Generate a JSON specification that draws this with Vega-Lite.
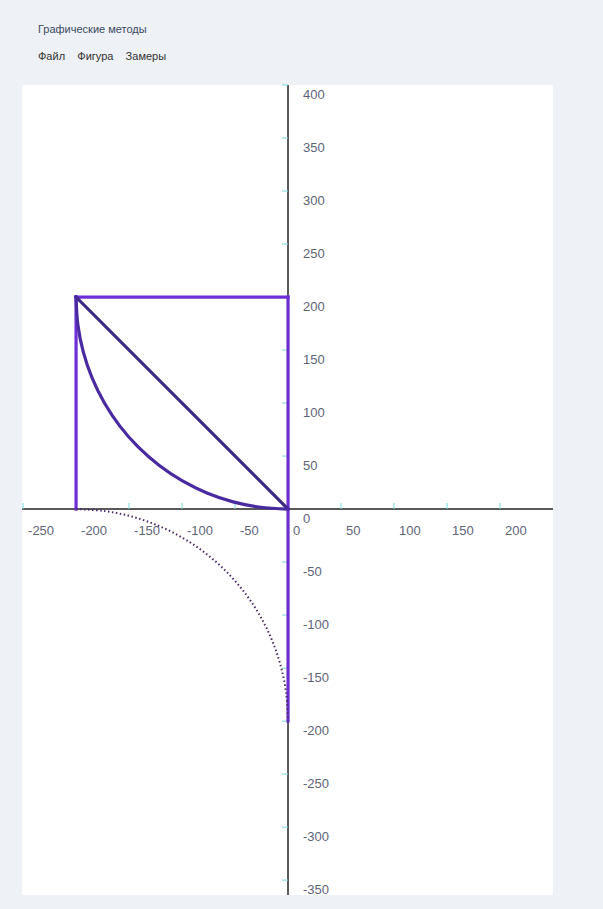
{
  "$schema": "https://vega.github.io/schema/vega-lite/v6.json",
  "width": 531,
  "height": 810,
  "autosize": {"type": "none"},
  "padding": {"left": 22, "top": 85, "right": 50, "bottom": 14},
  "background": "#eef1f5",
  "view": {"fill": "#ffffff", "stroke": null},
  "title": {
    "text": "Графические методы",
    "subtitle": "Файл\u00a0\u00a0\u00a0\u00a0Фигура\u00a0\u00a0\u00a0\u00a0Замеры",
    "anchor": "start",
    "frame": "group",
    "offset": 22,
    "dx": 16,
    "font": "Liberation Sans",
    "fontSize": 11,
    "fontWeight": "normal",
    "color": "#3a4a60",
    "subtitleFont": "Liberation Sans",
    "subtitleFontSize": 11,
    "subtitleColor": "#333333",
    "subtitlePadding": 16
  },
  "datasets": {
    "shapes": [
      {"shape": "left", "i": 0, "x": -200, "y": 0},
      {"shape": "left", "i": 1, "x": -200, "y": 200},
      {"shape": "top", "i": 0, "x": -200, "y": 200},
      {"shape": "top", "i": 1, "x": 0, "y": 200},
      {"shape": "right", "i": 0, "x": 0, "y": 200},
      {"shape": "right", "i": 1, "x": 0, "y": -200},
      {"shape": "diag", "i": 0, "x": -200, "y": 200},
      {"shape": "diag", "i": 1, "x": 0, "y": 0},
      {"shape": "arc", "i": 0, "x": -200, "y": 200},
      {"shape": "arc", "i": 1, "x": -198.29, "y": 173.89},
      {"shape": "arc", "i": 2, "x": -193.19, "y": 148.24},
      {"shape": "arc", "i": 3, "x": -184.78, "y": 123.46},
      {"shape": "arc", "i": 4, "x": -173.21, "y": 100},
      {"shape": "arc", "i": 5, "x": -158.67, "y": 78.25},
      {"shape": "arc", "i": 6, "x": -141.42, "y": 58.58},
      {"shape": "arc", "i": 7, "x": -121.75, "y": 41.33},
      {"shape": "arc", "i": 8, "x": -100, "y": 26.79},
      {"shape": "arc", "i": 9, "x": -76.54, "y": 15.22},
      {"shape": "arc", "i": 10, "x": -51.76, "y": 6.81},
      {"shape": "arc", "i": 11, "x": -26.11, "y": 1.71},
      {"shape": "arc", "i": 12, "x": 0, "y": 0},
      {"shape": "dotted", "i": 0, "x": -200, "y": 0},
      {"shape": "dotted", "i": 1, "x": -173.89, "y": -1.71},
      {"shape": "dotted", "i": 2, "x": -148.24, "y": -6.81},
      {"shape": "dotted", "i": 3, "x": -123.46, "y": -15.22},
      {"shape": "dotted", "i": 4, "x": -100, "y": -26.79},
      {"shape": "dotted", "i": 5, "x": -78.25, "y": -41.33},
      {"shape": "dotted", "i": 6, "x": -58.58, "y": -58.58},
      {"shape": "dotted", "i": 7, "x": -41.33, "y": -78.25},
      {"shape": "dotted", "i": 8, "x": -26.79, "y": -100},
      {"shape": "dotted", "i": 9, "x": -15.22, "y": -123.46},
      {"shape": "dotted", "i": 10, "x": -6.81, "y": -148.24},
      {"shape": "dotted", "i": 11, "x": -1.71, "y": -173.89},
      {"shape": "dotted", "i": 12, "x": 0, "y": -200}
    ],
    "xt": [
      {"v": -250, "label": "-250"},
      {"v": -200, "label": "-200"},
      {"v": -150, "label": "-150"},
      {"v": -100, "label": "-100"},
      {"v": -50, "label": "-50"},
      {"v": 0, "label": "0"},
      {"v": 50, "label": "50"},
      {"v": 100, "label": "100"},
      {"v": 150, "label": "150"},
      {"v": 200, "label": "200"}
    ],
    "yt": [
      {"v": 400, "label": "400"},
      {"v": 350, "label": "350"},
      {"v": 300, "label": "300"},
      {"v": 250, "label": "250"},
      {"v": 200, "label": "200"},
      {"v": 150, "label": "150"},
      {"v": 100, "label": "100"},
      {"v": 50, "label": "50"},
      {"v": 0, "label": "0"},
      {"v": -50, "label": "-50"},
      {"v": -100, "label": "-100"},
      {"v": -150, "label": "-150"},
      {"v": -200, "label": "-200"},
      {"v": -250, "label": "-250"},
      {"v": -300, "label": "-300"},
      {"v": -350, "label": "-350"}
    ]
  },
  "layer": [
    {
      "data": {"name": "xt"},
      "mark": {"type": "rule", "color": "#5a5a5a", "strokeWidth": 1.5},
      "encoding": {
        "y": {"datum": 0, "type": "quantitative", "scale": {"domain": [-364, 400], "nice": false, "zero": false}, "axis": null}
      }
    },
    {
      "data": {"name": "xt"},
      "mark": {"type": "rule", "color": "#5a5a5a", "strokeWidth": 1.5},
      "encoding": {
        "x": {"datum": 0, "type": "quantitative", "scale": {"domain": [-251, 250], "nice": false, "zero": false}, "axis": null}
      }
    },
    {
      "data": {"name": "xt"},
      "transform": [{"filter": "datum.v != 0"}],
      "mark": {"type": "tick", "orient": "vertical", "size": 6, "thickness": 1.5, "color": "#7fd8dc", "yOffset": -3},
      "encoding": {
        "x": {"field": "v", "type": "quantitative"},
        "y": {"datum": 0, "type": "quantitative"}
      }
    },
    {
      "data": {"name": "yt"},
      "transform": [{"filter": "datum.v != 0"}],
      "mark": {"type": "tick", "orient": "horizontal", "size": 6, "thickness": 1.5, "color": "#7fd8dc", "xOffset": -3},
      "encoding": {
        "y": {"field": "v", "type": "quantitative"},
        "x": {"datum": 0, "type": "quantitative"}
      }
    },
    {
      "data": {"name": "shapes"},
      "transform": [{"filter": "datum.shape != 'dotted'"}],
      "mark": {"type": "line", "strokeCap": "square", "strokeJoin": "round", "interpolate": "catmull-rom"},
      "encoding": {
        "x": {"field": "x", "type": "quantitative"},
        "y": {"field": "y", "type": "quantitative"},
        "order": {"field": "i", "type": "quantitative"},
        "detail": {"field": "shape", "type": "nominal"},
        "color": {
          "field": "shape", "type": "nominal", "legend": null,
          "scale": {"domain": ["left", "top", "right", "diag", "arc"], "range": ["#6f2fd6", "#6f2fd6", "#6a2ed0", "#3d2a86", "#4a2aa0"]}
        },
        "strokeWidth": {
          "field": "shape", "type": "nominal", "legend": null,
          "scale": {"domain": ["left", "top", "right", "diag", "arc"], "range": [3.2, 3.2, 3, 2.4, 2.6]}
        }
      }
    },
    {
      "data": {"name": "shapes"},
      "transform": [{"filter": "datum.shape == 'dotted'"}],
      "mark": {"type": "line", "color": "#4a2a6a", "strokeWidth": 2, "strokeDash": [1.5, 2.5], "interpolate": "catmull-rom"},
      "encoding": {
        "x": {"field": "x", "type": "quantitative"},
        "y": {"field": "y", "type": "quantitative"},
        "order": {"field": "i", "type": "quantitative"}
      }
    },
    {
      "data": {"name": "xt"},
      "mark": {"type": "text", "align": "left", "baseline": "middle", "dx": 5, "dy": 22, "font": "Liberation Sans", "fontSize": 13, "color": "#5d6478"},
      "encoding": {
        "x": {"field": "v", "type": "quantitative"},
        "y": {"datum": 0, "type": "quantitative"},
        "text": {"field": "label"}
      }
    },
    {
      "data": {"name": "yt"},
      "mark": {"type": "text", "align": "left", "baseline": "middle", "dx": 15, "dy": 10, "font": "Liberation Sans", "fontSize": 13, "color": "#5d6478"},
      "encoding": {
        "y": {"field": "v", "type": "quantitative"},
        "x": {"datum": 0, "type": "quantitative"},
        "text": {"field": "label"}
      }
    }
  ]
}
